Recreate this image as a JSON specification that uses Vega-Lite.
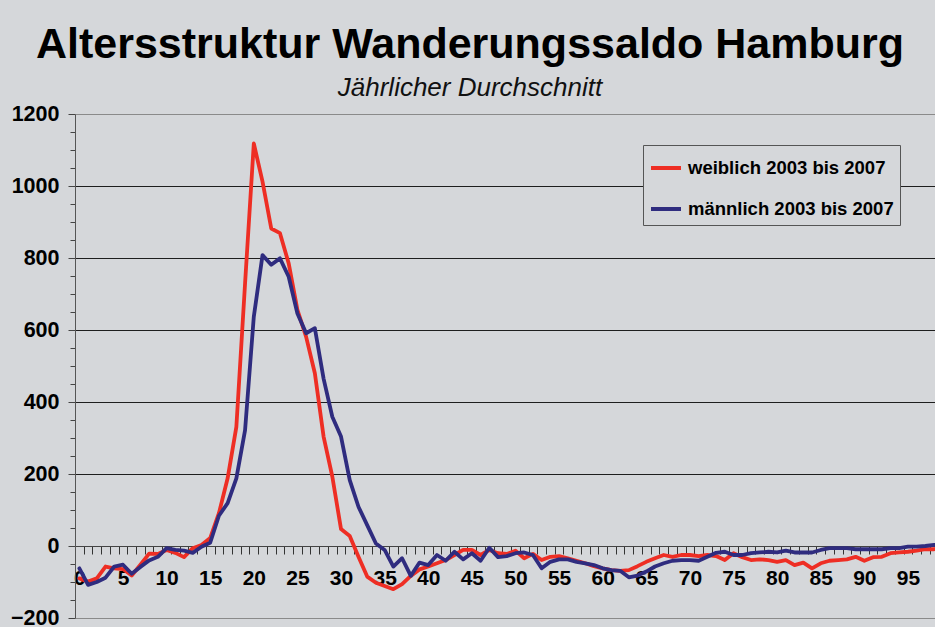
{
  "$schema": "https://vega.github.io/schema/vega-lite/v6.json",
  "width": 860,
  "height": 504,
  "autosize": {"type": "none"},
  "padding": {"left": 75, "top": 114, "right": 0, "bottom": 9},
  "background": "#d5d7da",
  "title": {
    "text": "Altersstruktur Wanderungssaldo Hamburg",
    "subtitle": "Jährlicher Durchschnitt",
    "anchor": "middle",
    "frame": "group",
    "dx": -35,
    "offset": 2,
    "font": "Liberation Sans",
    "fontSize": 43,
    "fontWeight": "bold",
    "color": "#000000",
    "subtitleFont": "Liberation Sans",
    "subtitleFontSize": 26,
    "subtitleFontStyle": "italic",
    "subtitleFontWeight": "normal",
    "subtitleColor": "#111111",
    "subtitlePadding": 8
  },
  "data": {
    "values": [
      {"a":0,"w":-90,"m":-62},{"a":1,"w":-99,"m":-108},{"a":2,"w":-90,"m":-100},{"a":3,"w":-57,"m":-88},{"a":4,"w":-62,"m":-57},
      {"a":5,"w":-64,"m":-52},{"a":6,"w":-82,"m":-77},{"a":7,"w":-52,"m":-58},{"a":8,"w":-21,"m":-40},{"a":9,"w":-22,"m":-30},
      {"a":10,"w":-11,"m":-6},{"a":11,"w":-19,"m":-11},{"a":12,"w":-31,"m":-13},{"a":13,"w":-6,"m":-19},{"a":14,"w":3,"m":-2},
      {"a":15,"w":22,"m":9},{"a":16,"w":91,"m":84},{"a":17,"w":188,"m":119},{"a":18,"w":331,"m":188},{"a":19,"w":730,"m":322},
      {"a":20,"w":1118,"m":637},{"a":21,"w":1012,"m":808},{"a":22,"w":882,"m":781},{"a":23,"w":869,"m":799},{"a":24,"w":785,"m":748},
      {"a":25,"w":656,"m":646},{"a":26,"w":581,"m":591},{"a":27,"w":480,"m":605},{"a":28,"w":304,"m":465},{"a":29,"w":193,"m":359},
      {"a":30,"w":47,"m":304},{"a":31,"w":28,"m":183},{"a":32,"w":-30,"m":109},{"a":33,"w":-85,"m":58},{"a":34,"w":-102,"m":7},
      {"a":35,"w":-111,"m":-11},{"a":36,"w":-120,"m":-57},{"a":37,"w":-106,"m":-34},{"a":38,"w":-83,"m":-83},{"a":39,"w":-65,"m":-46},
      {"a":40,"w":-57,"m":-53},{"a":41,"w":-48,"m":-25},{"a":42,"w":-39,"m":-41},{"a":43,"w":-25,"m":-16},{"a":44,"w":-11,"m":-37},
      {"a":45,"w":-11,"m":-20},{"a":46,"w":-25,"m":-41},{"a":47,"w":-11,"m":-5},{"a":48,"w":-20,"m":-31},{"a":49,"w":-22,"m":-28},
      {"a":50,"w":-13,"m":-20},{"a":51,"w":-34,"m":-18},{"a":52,"w":-22,"m":-25},{"a":53,"w":-39,"m":-62},{"a":54,"w":-30,"m":-44},
      {"a":55,"w":-28,"m":-37},{"a":56,"w":-34,"m":-37},{"a":57,"w":-41,"m":-44},{"a":58,"w":-48,"m":-48},{"a":59,"w":-56,"m":-53},
      {"a":60,"w":-62,"m":-62},{"a":61,"w":-67,"m":-67},{"a":62,"w":-69,"m":-69},{"a":63,"w":-67,"m":-87},{"a":64,"w":-56,"m":-82},
      {"a":65,"w":-44,"m":-71},{"a":66,"w":-34,"m":-57},{"a":67,"w":-25,"m":-48},{"a":68,"w":-30,"m":-41},{"a":69,"w":-25,"m":-39},
      {"a":70,"w":-25,"m":-39},{"a":71,"w":-28,"m":-41},{"a":72,"w":-25,"m":-30},{"a":73,"w":-28,"m":-19},{"a":74,"w":-39,"m":-16},
      {"a":75,"w":-20,"m":-25},{"a":76,"w":-31,"m":-25},{"a":77,"w":-39,"m":-20},{"a":78,"w":-37,"m":-18},{"a":79,"w":-39,"m":-16},
      {"a":80,"w":-44,"m":-18},{"a":81,"w":-39,"m":-13},{"a":82,"w":-53,"m":-18},{"a":83,"w":-46,"m":-18},{"a":84,"w":-62,"m":-18},
      {"a":85,"w":-48,"m":-11},{"a":86,"w":-41,"m":-6},{"a":87,"w":-39,"m":-6},{"a":88,"w":-37,"m":-6},{"a":89,"w":-30,"m":-9},
      {"a":90,"w":-41,"m":-9},{"a":91,"w":-31,"m":-9},{"a":92,"w":-30,"m":-9},{"a":93,"w":-20,"m":-6},{"a":94,"w":-18,"m":-6},
      {"a":95,"w":-16,"m":-2},{"a":96,"w":-13,"m":-2},{"a":97,"w":-9,"m":0},{"a":98,"w":-9,"m":3},{"a":99,"w":-4,"m":5}
    ]
  },
  "transform": [{"fold": ["w", "m"], "as": ["k", "v"]}],
  "mark": {"type": "line", "strokeWidth": 3.8, "clip": true, "strokeJoin": "round", "strokeCap": "round"},
  "encoding": {
    "x": {
      "field": "a",
      "type": "quantitative",
      "scale": {"domain": [-0.5, 98.1], "nice": false, "zero": false},
      "axis": {
        "title": null,
        "orient": "bottom",
        "offset": -72,
        "values": [-0.5,0.5,1.5,2.5,3.5,4.5,5.5,6.5,7.5,8.5,9.5,10.5,11.5,12.5,13.5,14.5,15.5,16.5,17.5,18.5,19.5,20.5,21.5,22.5,23.5,24.5,25.5,26.5,27.5,28.5,29.5,30.5,31.5,32.5,33.5,34.5,35.5,36.5,37.5,38.5,39.5,40.5,41.5,42.5,43.5,44.5,45.5,46.5,47.5,48.5,49.5,50.5,51.5,52.5,53.5,54.5,55.5,56.5,57.5,58.5,59.5,60.5,61.5,62.5,63.5,64.5,65.5,66.5,67.5,68.5,69.5,70.5,71.5,72.5,73.5,74.5,75.5,76.5,77.5,78.5,79.5,80.5,81.5,82.5,83.5,84.5,85.5,86.5,87.5,88.5,89.5,90.5,91.5,92.5,93.5,94.5,95.5,96.5,97.5],
        "labelExpr": "(datum.value + 0.5) % 5 == 0 ? format(datum.value + 0.5, 'd') : ''",
        "labelOffset": 4.36,
        "grid": false,
        "tickSize": 8,
        "tickColor": "#333333",
        "domainColor": "#444444",
        "labelFont": "Liberation Sans",
        "labelFontSize": 21,
        "labelFontWeight": "bold",
        "labelColor": "#000000",
        "labelPadding": 13,
        "labelOverlap": false,
        "labelBound": false,
        "labelFlush": false
      }
    },
    "y": {
      "field": "v",
      "type": "quantitative",
      "scale": {"domain": [-200, 1200], "nice": false, "zero": false},
      "axis": {
        "title": null,
        "values": [-200,-150,-100,-50,0,50,100,150,200,250,300,350,400,450,500,550,600,650,700,750,800,850,900,950,1000,1050,1100,1150,1200],
        "labelExpr": "datum.value % 200 == 0 ? format(datum.value, 'd') : ''",
        "grid": true,
        "gridOpacity": {"condition": {"test": "datum.value % 200 != 0", "value": 0}, "value": 1},
        "gridColor": {"condition": {"test": "datum.value == 1200 || datum.value == -200", "value": "#8a8a8a"}, "value": "#1e1e1e"},
        "gridWidth": 1,
        "tickSize": {"condition": {"test": "datum.value % 200 == 0", "value": 7}, "value": 5},
        "tickColor": "#444444",
        "domainColor": "#555555",
        "labelFont": "Liberation Sans",
        "labelFontSize": 21.5,
        "labelFontWeight": "bold",
        "labelColor": "#000000",
        "labelPadding": 9,
        "labelOverlap": false,
        "labelBound": false,
        "labelFlush": false
      }
    },
    "color": {
      "field": "k",
      "type": "nominal",
      "scale": {"domain": ["w", "m"], "range": ["#ee2e24", "#2f2c7f"]},
      "legend": {
        "title": null,
        "orient": "none",
        "legendX": 568,
        "legendY": 31,
        "direction": "vertical",
        "labelExpr": "datum.value == 'w' ? 'weiblich 2003 bis 2007' : 'männlich 2003 bis 2007'",
        "fillColor": "#d5d7da",
        "strokeColor": "#555555",
        "padding": 6,
        "symbolType": "stroke",
        "symbolSize": 900,
        "symbolStrokeWidth": 4,
        "labelFont": "Liberation Sans",
        "labelFontSize": 18.5,
        "labelFontWeight": "bold",
        "labelColor": "#000000",
        "labelOffset": 5,
        "rowPadding": 14,
        "labelLimit": 400
      }
    }
  },
  "config": {"view": {"stroke": null}}
}
